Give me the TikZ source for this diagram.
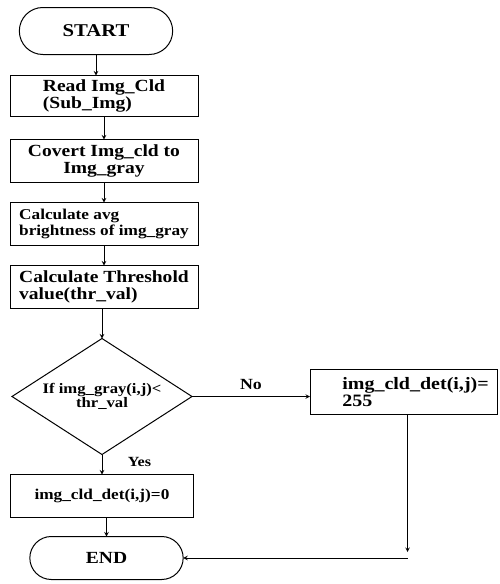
\documentclass[tikz,border=0pt]{standalone}
\usepackage{fontspec}
\setmainfont{Liberation Serif}[FakeStretch=1.15]
\usetikzlibrary{shapes, arrows, positioning}

\begin{document}
\begin{tikzpicture}[
        node distance=20pt and 20pt,
        terminal/.style={rounded rectangle, draw, line width=1pt, outer sep=0pt, minimum width=160pt, minimum height=47pt, font=\bfseries\fontsize{18}{18}\selectfont},
        block/.style={rectangle, draw, line width=1pt, outer sep=0pt, minimum width=188pt, minimum height=43pt, inner sep=2pt, font=\bfseries\fontsize{17}{17.5}\selectfont},
        decision/.style={diamond, draw, line width=1pt, outer sep=0pt, shape aspect=1.55, minimum width=180pt, minimum height=116pt, inner sep=0pt, align=center, font=\bfseries\fontsize{14.5}{14}\selectfont},
        arrow/.style={line width=1pt,->,>=stealth}
    ]
    \useasboundingbox (0,0) rectangle (499pt,-584pt);

    % Main column
    \node [terminal] (start) at (96pt,-31pt) {START};
    \node [block, below=21pt of start, xshift=8pt, minimum height=41pt, align=left] (read) {Read Img\_Cld\\(Sub\_Img)};
    \node [block, below=23pt of read, align=center] (covert) {Covert Img\_cld to\\Img\_gray};
    \node [block, below=20pt of covert, align=left, font=\bfseries\fontsize{15}{16}\selectfont] (avg) {Calculate avg\\brightness of img\_gray};
    \node [block, below=20pt of avg, align=left] (thr) {Calculate Threshold\\value(thr\_val)};
    \node [decision, below=30pt of thr, xshift=-2pt] (check) {If img\_gray(i,j)<\\thr\_val};
    \node [block, below=20pt of check, minimum width=183pt, font=\bfseries\fontsize{15}{15}\selectfont] (zero) {img\_cld\_det(i,j)=0};
    \node [terminal, below=19pt of zero, xshift=4.5pt, minimum height=43pt, font=\bfseries\fontsize{17}{17}\selectfont] (stop) {END};

    % No branch
    \node [block, right=118pt of check, yshift=4.5pt, minimum width=187pt, minimum height=45pt, align=left, font=\bfseries\fontsize{17.4}{17}\selectfont] (det) {\hspace*{24pt}img\_cld\_det(i,j)=\\\hspace*{24pt}255};
    \coordinate (bend) at ([xshift=4pt]det.south |- stop.east);

    % Connecting Lines
    \draw [arrow] (start.south) -- (start.south |- read.north);
    \draw [arrow] (read) -- (covert);
    \draw [arrow] (covert) -- (avg);
    \draw [arrow] (avg) -- (thr);
    \draw [arrow] (thr.south -| check.north) -- (check.north);
    \draw [arrow] (check) -- node[right=22pt, yshift=3pt, font=\bfseries\fontsize{14}{14}\selectfont] {Yes} (zero);
    \draw [arrow] (stop.north |- zero.south) -- (stop.north);
    \draw [arrow] (check.east) -- node[above=3pt, font=\bfseries\fontsize{15.5}{15.5}\selectfont] {No} (check.east -| det.west);
    \draw [arrow, shorten >=6pt] ([xshift=4pt]det.south) -- (bend);
    \draw [arrow] (bend) -- (stop.east);

\end{tikzpicture}
\end{document}
